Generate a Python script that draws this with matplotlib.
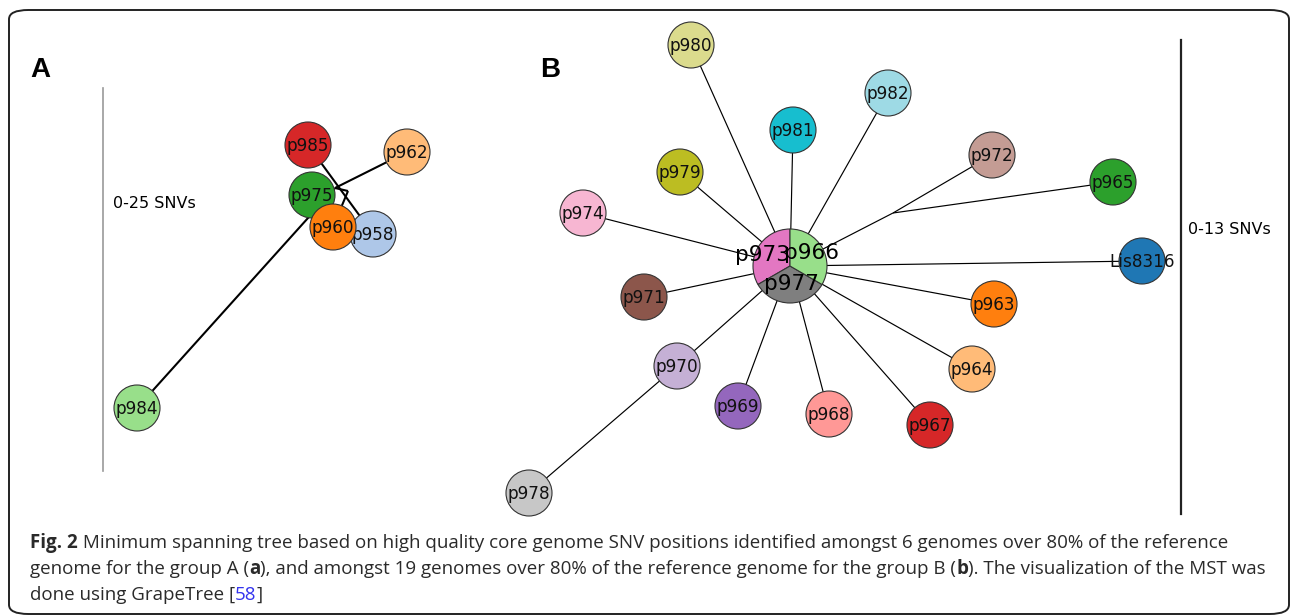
import matplotlib
matplotlib.use("Agg")
import matplotlib.pyplot as plt
from matplotlib.patches import Circle, Wedge, FancyBboxPatch

# ---- panel A: nodes (name, x, y in pixel layout), colours, edges
a_names = ["p985", "p962", "p975", "p958", "p960", "p984", "jA1", "jA2"]
a_x = [308, 407, 312, 373, 333, 137, 335, 348]
a_y = [145, 152, 195, 234, 227, 408, 188, 191]
a_colors = ["#d62728", "#ffbb78", "#2ca02c", "#aec7e8", "#ff7f0e", "#98df8a", None, None]
a_edges = [("p984", "jA1"), ("p962", "jA1"), ("p985", "p958"),
           ("jA1", "jA2"), ("jA2", "p960")]

# ---- panel B
b_names = ["p980", "p982", "p981", "p972", "p979", "p965", "p974", "Lis8316",
           "p971", "p963", "p970", "p964", "p969", "p968", "p967", "p978", "jB"]
b_x = [691, 888, 793, 992, 680, 1113, 583, 1142, 644, 994, 677, 972, 738, 829, 930, 529, 893]
b_y = [45, 93, 130, 155, 172, 182, 213, 261, 297, 304, 366, 369, 406, 414, 425, 493, 213]
b_colors = ["#dbdb8d", "#9edae5", "#17becf", "#c49c94", "#bcbd22", "#2ca02c",
            "#f7b6d2", "#1f77b4", "#8c564b", "#ff7f0e", "#c5b0d5", "#ffbb78",
            "#9467bd", "#ff9896", "#d62728", "#c7c7c7", None]
b_edges = [("hub", n) for n in ["p980", "p982", "p981", "jB", "p979", "p974",
                                "Lis8316", "p971", "p963", "p970", "p964",
                                "p969", "p968", "p967"]]
b_edges += [("jB", "p972"), ("jB", "p965"), ("p970", "p978")]

# hub node holding three genomes (pie shares, screen angles ccw from top)
hub_x, hub_y = 790, 266
hub_names = ["p973", "p977", "p966"]
hub_share = [1, 1, 1]
hub_colors = ["#e377c2", "#7f7f7f", "#98df8a"]

fig = plt.figure(figsize=(12.92, 6.16), dpi=100)
ax = fig.add_axes([0, 0, 1, 1])
ax.set_xlim(0, 1292)
ax.set_ylim(616, 0)
ax.axis("off")

# border
fig.patches.append(FancyBboxPatch((9 / 1292, 2 / 616), 1280 / 1292, 604 / 616,
                                  boxstyle="round,pad=0,rounding_size=0.015",
                                  transform=fig.transFigure, fill=False,
                                  ec="#222222", lw=1.4))

R = 23


def draw_tree(names, xs, ys, colors, edges, lw, pos_extra=None):
    pos = {n: (x, y) for n, x, y in zip(names, xs, ys)}
    if pos_extra:
        pos.update(pos_extra)
    for a, b in edges:
        ax.plot([pos[a][0], pos[b][0]], [pos[a][1], pos[b][1]],
                color="black", lw=lw, zorder=1, solid_capstyle="butt")
    z = 3
    for n, x, y, c in zip(names, xs, ys, colors):
        if c is None:
            continue
        ax.add_patch(Circle((x, y), R, fc=c, ec="#333333", lw=0.8, zorder=z))
        ax.text(x, y + 1, n, ha="center", va="center", fontsize=12.2,
                color="#111111", zorder=z + 0.5)
        z += 1


draw_tree(a_names, a_x, a_y, a_colors, a_edges, 1.5)
draw_tree(b_names, b_x, b_y, b_colors, b_edges, 0.85, {"hub": (hub_x, hub_y)})

# hub pie (y axis inverted, so screen angle a -> data angle -a)
start = 90
tot = sum(hub_share)
for n, s, c in zip(hub_names, hub_share, hub_colors):
    span = 360 * s / tot
    ax.add_patch(Wedge((hub_x, hub_y), 37, -(start + span), -start, fc=c,
                       ec="#333333", lw=0.8, zorder=40))
    start += span
ax.text(762, 255, "p973", ha="center", va="center", fontsize=15.5, zorder=45)
ax.text(811, 253, "p966", ha="center", va="center", fontsize=15.5, zorder=45)
ax.text(791, 284, "p977", ha="center", va="center", fontsize=15.5, zorder=45)

# scale bars
ax.plot([103, 103], [88, 471], color="#999999", lw=1.2)
ax.text(113, 204, "0-25 SNVs", fontsize=11.5, va="center")
ax.plot([1181, 1181], [40, 514], color="#222222", lw=1.6)
ax.text(1188, 230, "0-13 SNVs", fontsize=11.5, va="center")

# panel letters
ax.text(30, 70, "A", fontsize=20, fontweight="bold", va="center", family="Liberation Sans")
ax.text(540, 70, "B", fontsize=20, fontweight="bold", va="center", family="Liberation Sans")

# caption
txt = "#2a2a2a"
cap_lines = [
    [("Fig. 2", "bold", txt),
     (" Minimum spanning tree based on high quality core genome SNV positions identified amongst 6 genomes over 80% of the reference", "normal", txt)],
    [("genome for the group A (", "normal", txt), ("a", "bold", txt),
     ("), and amongst 19 genomes over 80% of the reference genome for the group B (", "normal", txt),
     ("b", "bold", txt), ("). The visualization of the MST was", "normal", txt)],
    [("done using GrapeTree [", "normal", txt), ("58", "normal", "#3333ee"),
     ("]", "normal", txt)],
]
cap_y = [543, 569, 595]
renderer = fig.canvas.get_renderer()
for line, y in zip(cap_lines, cap_y):
    x = 30
    for s, w, c in line:
        t = ax.text(x, y, s, fontsize=13.5, fontweight=w, color=c, va="center",
                    family="Open Sans")
        bb = t.get_window_extent(renderer)
        x += bb.width

fig.savefig("out.png", dpi=100)
